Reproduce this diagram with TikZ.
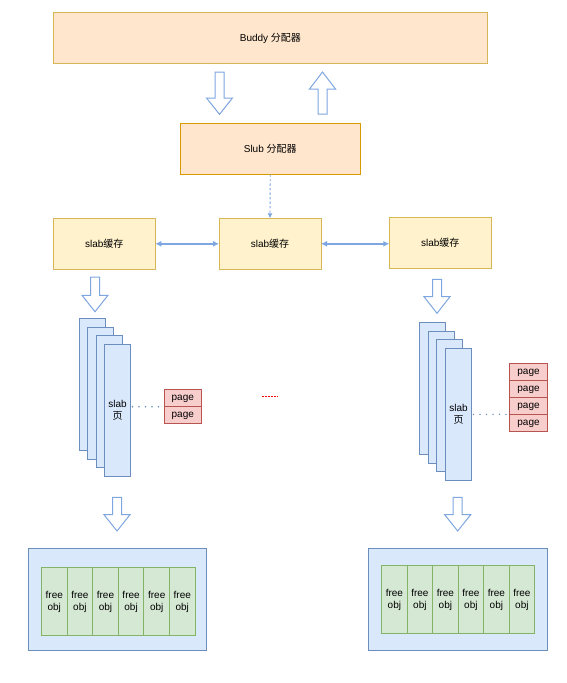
\documentclass[tikz,border=0pt]{standalone}
\usepackage{fontspec}
\setmainfont{Liberation Sans}
\newfontfamily\cjk{Noto Sans CJK SC}
\usetikzlibrary{arrows.meta}
\definecolor{orfill}{HTML}{FFE6CC}
\definecolor{ordraw}{HTML}{D79B00}
\definecolor{yedraw}{HTML}{D6B656}
\definecolor{yefill}{HTML}{FFF2CC}
\definecolor{blfill}{HTML}{DAE8FC}
\definecolor{bldraw}{HTML}{6C8EBF}
\definecolor{arrcol}{HTML}{7EA6E0}
\definecolor{pgfill}{HTML}{F8CECC}
\definecolor{pgdraw}{HTML}{B85450}
\definecolor{grfill}{HTML}{D5E8D4}
\definecolor{grdraw}{HTML}{82B366}
\tikzset{
  box/.style={draw, line width=1pt, inner sep=0pt, outer sep=0pt, font=\fontsize{10}{12}\selectfont},
  mbox/.style={box, align=center},
  buddybox/.style={box, fill=orfill, draw=yedraw},
  slubbox/.style={box, fill=orfill, draw=ordraw},
  cachebox/.style={box, fill=yefill, draw=yedraw, minimum width=102pt, minimum height=51pt},
  pagesheet/.style={mbox, fill=blfill, draw=bldraw, minimum width=26pt, minimum height=132pt},
  pagebox/.style={box, fill=pgfill, draw=pgdraw, minimum width=37.6pt, minimum height=17pt, text height=7pt, text depth=2pt},
  container/.style={box, fill=blfill, draw=bldraw},
  objbox/.style={mbox, fill=grfill, draw=grdraw, minimum width=25.6pt, minimum height=68.4pt},
  blk/.style={draw=arrcol, fill=white, line width=1pt, line join=miter},
  link/.style={draw=arrcol, line width=1.5pt, {Latex[length=6pt,width=6pt]}-{Latex[length=6pt,width=6pt]}},
  dotlink/.style={draw=bldraw, line width=1.6pt, line cap=round, dash pattern=on 0pt off 6.5pt},
}
\newcommand\blkarrow[4]{%
  \draw[blk] ({#1-4.5},#2) -- ({#1-4.5},#3) -- ({#1-13},#3) -- (#1,#4) -- ({#1+13},#3) -- ({#1+4.5},#3) -- ({#1+4.5},#2) -- cycle;}
\begin{document}
\begin{tikzpicture}[x=1pt,y=-1pt]
\useasboundingbox (0,0) rectangle (566,683);

% top boxes
\node[buddybox, minimum width=434pt, minimum height=50.6pt] (buddy) at (270.4,38) {Buddy {\cjk 分配器}};
\node[slubbox, minimum width=179.5pt, minimum height=51pt] (slub) at (270.25,148.8) {Slub {\cjk 分配器}};

\blkarrow{219.5}{72}{98}{114.3}
\blkarrow{322.5}{114}{89}{72}

% caches
\node[cachebox] (cL) at (104.3,243.8) {slab{\cjk 缓存}};
\node[cachebox] (cM) at (270,243.8) {slab{\cjk 缓存}};
\node[cachebox] (cR) at (440.3,242.8) {slab{\cjk 缓存}};

\draw[draw=arrcol, line width=0.9pt, dash pattern=on 2.5pt off 2pt, -{Latex[length=5pt,width=5pt]}] (slub.south) -- (cM.north);
\draw[link] (cL.east) -- (cM.west);
\draw[link] (cM.east) -- (cM.east -| cR.west);

\blkarrow{95}{277}{295.3}{311.7}
\blkarrow{437}{279.3}{296.7}{313.3}

% left stack
\node[pagesheet, anchor=north west] (sL1) at (79,318.5) {};
\node[pagesheet, anchor=north west] (sL2) at (87.5,327) {};
\node[pagesheet, anchor=north west] (sL3) at (96,335.5) {};
\node[pagesheet, anchor=north west] (sL4) at (104.5,344) {slab\\{\cjk 页}};

\node[pagebox, anchor=south west] (pL1) at (164,406.7) {page};
\node[pagebox, anchor=north west] (pL2) at (164,406.7) {page};

\draw[dotlink] (pL1.south west -| sL4.east) ++(2,0) -- ([xshift=-5pt]pL1.south west);

% right stack
\node[pagesheet, anchor=north west] (sR1) at (419.7,322.7) {};
\node[pagesheet, anchor=north west] (sR2) at (428.3,331.3) {};
\node[pagesheet, anchor=north west] (sR3) at (436.9,339.9) {};
\node[pagesheet, anchor=north west] (sR4) at (445.5,348.5) {slab\\{\cjk 页}};

\node[pagebox, anchor=north west] (pR1) at (509.7,363.3) {page};
\node[pagebox, anchor=north] (pR2) at (pR1.south) {page};
\node[pagebox, anchor=north] (pR3) at (pR2.south) {page};
\node[pagebox, anchor=north] (pR4) at (pR3.south) {page};

\draw[dotlink] (pR3.south west -| sR4.east) ++(2,0) -- ([xshift=-3pt]pR3.south west);

% ellipsis
\coordinate (e1) at (262,396.3);
\coordinate (e2) at (278,396.3);
\draw[red, line width=1pt, dash pattern=on 1.5pt off 1.5pt] (e1) -- (e2);

\blkarrow{117}{497.3}{514.7}{531}
\blkarrow{457.7}{497.3}{514.7}{531}

% containers
\node[container, minimum width=178.3pt, minimum height=102.4pt, anchor=north west] (boxL) at (28.2,548.3) {};
\node[container, minimum width=179.1pt, minimum height=102.4pt, anchor=north west] (boxR) at (368.6,548.3) {};

\foreach \i in {0,...,5} {
  \node[objbox, anchor=north west] (oL\i) at ({41.5+25.6*\i},567.3) {free\\obj};
  \node[objbox, anchor=north west] (oR\i) at ({381.6+25.5*\i},565.3) {free\\obj};
}
\end{tikzpicture}
\end{document}
